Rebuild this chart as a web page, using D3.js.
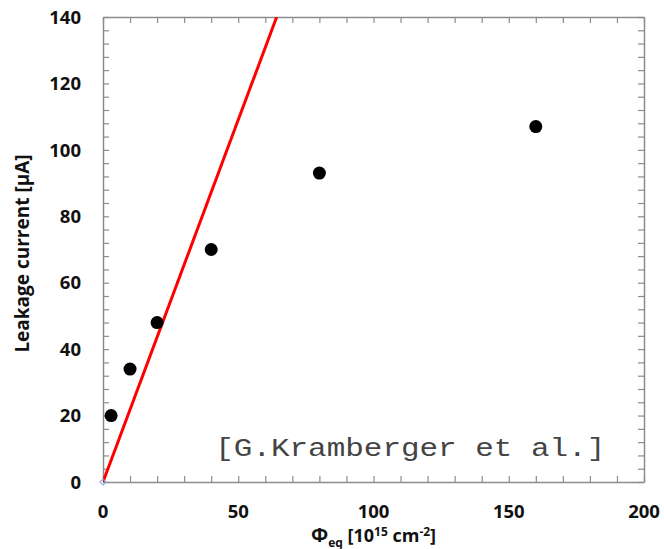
<!DOCTYPE html>
<meta charset="utf-8">
<style>
  body { margin: 0; background: #fff; }
  .frame .domain { stroke: #8c8c8c; stroke-width: 1.5; }
  .frame .tick line { stroke: #8c8c8c; stroke-width: 1.2; }
  .frame .tick text { display: none; }
  .lbl { font-family: "Open Sans", "Liberation Sans", sans-serif; font-weight: bold; fill: #111; }
</style>
<svg width="664" height="549"></svg>
<script src="https://cdn.jsdelivr.net/npm/d3@7"></script>
<script>
  // measured points
  var fluence = [3, 10, 20, 40, 80, 160];
  var current = [20, 34, 48, 70, 93, 107];
  // linear expectation (red line)
  var fitX = [0, 64.2];
  var fitY = [0, 140];
  var xTicks = [0, 50, 100, 150, 200];
  var yTicks = [0, 20, 40, 60, 80, 100, 120, 140];

  var svg = d3.select("svg");
  var margin = {top: 17, right: 20, bottom: 67, left: 103};
  var width = 664 - margin.left - margin.right;
  var height = 549 - margin.top - margin.bottom;
  var g = svg.append("g").attr("transform", "translate(" + margin.left + "," + margin.top + ")");

  var x = d3.scaleLinear().domain([0, 200]).range([0, width]);
  var y = d3.scaleLinear().domain([0, 140]).range([height, 0]);

  var xMinor = d3.range(0, 201, 10);
  var yMinor = d3.range(0, 141, 4);

  // frame with inside ticks on all four sides
  g.append("g").attr("class", "frame").attr("transform", "translate(0," + height + ")")
    .call(d3.axisBottom(x).tickValues(xMinor).tickSize(-6).tickSizeOuter(0));
  g.append("g").attr("class", "frame")
    .call(d3.axisTop(x).tickValues(xMinor).tickSize(-6).tickSizeOuter(0));
  g.append("g").attr("class", "frame")
    .call(d3.axisLeft(y).tickValues(yMinor).tickSize(-6).tickSizeOuter(0));
  g.append("g").attr("class", "frame").attr("transform", "translate(" + width + ",0)")
    .call(d3.axisRight(y).tickValues(yMinor).tickSize(-6).tickSizeOuter(0));

  // tick labels
  g.selectAll(".xl").data(xTicks).enter().append("text")
    .attr("class", "lbl")
    .attr("x", function(d) { return x(d); })
    .attr("y", height + 36)
    .attr("text-anchor", "middle")
    .style("font-size", "18.5px")
    .text(function(d) { return d; });

  g.selectAll(".yl").data(yTicks).enter().append("text")
    .attr("class", "lbl")
    .attr("x", -22)
    .attr("y", function(d) { return y(d); })
    .attr("dy", "0.36em")
    .attr("text-anchor", "end")
    .style("font-size", "18.5px")
    .text(function(d) { return d; });

  // axis titles
  svg.append("text")
    .attr("class", "lbl")
    .attr("transform", "translate(29," + (margin.top + height / 2 + 4) + ") rotate(-90)")
    .attr("text-anchor", "middle")
    .style("font-size", "19px")
    .text("Leakage current [\u00b5A]");

  var xt = svg.append("text")
    .attr("class", "lbl")
    .attr("x", margin.left + width / 2)
    .attr("y", 542)
    .attr("text-anchor", "middle")
    .style("font-size", "18px");
  xt.append("tspan").style("font-size", "20px").text("\u03a6");
  xt.append("tspan").attr("dy", 5).style("font-size", "12px").text("eq");
  xt.append("tspan").attr("dy", -5).text(" [10");
  xt.append("tspan").attr("dy", -6).style("font-size", "12px").text("15");
  xt.append("tspan").attr("dy", 6).text(" cm");
  xt.append("tspan").attr("dy", -6).style("font-size", "12px").text("-2");
  xt.append("tspan").attr("dy", 6).text("]");

  // clip for the fit line
  svg.append("clipPath").attr("id", "plot")
    .append("rect").attr("width", width).attr("height", height);

  var fit = fitX.map(function(d, i) { return [d, fitY[i]]; });
  g.append("path")
    .datum(fit)
    .attr("clip-path", "url(#plot)")
    .attr("fill", "none")
    .attr("stroke", "#ff0000")
    .attr("stroke-width", 3)
    .attr("d", d3.line().x(function(d) { return x(d[0]); }).y(function(d) { return y(d[1]); }));

  // small blue marker at origin of the fit series
  g.append("path")
    .attr("transform", "translate(" + x(fitX[0]) + "," + y(fitY[0]) + ") rotate(45)")
    .attr("d", d3.symbol().type(d3.symbolSquare).size(18))
    .attr("fill", "none")
    .attr("stroke", "#7fa8e0")
    .attr("stroke-width", 1);

  g.selectAll(".pt").data(fluence).enter().append("circle")
    .attr("cx", function(d) { return x(d); })
    .attr("cy", function(d, i) { return y(current[i]); })
    .attr("r", 6.5)
    .attr("fill", "#000");

  // citation
  g.append("text")
    .attr("x", x(41.5))
    .attr("y", y(8) + 1)
    .attr("textLength", 390)
    .attr("lengthAdjust", "spacingAndGlyphs")
    .style("font-family", "'Liberation Mono', 'Courier New', monospace")
    .style("font-size", "25px")
    .style("fill", "#444")
    .text("[G.Kramberger et al.]");
</script>
